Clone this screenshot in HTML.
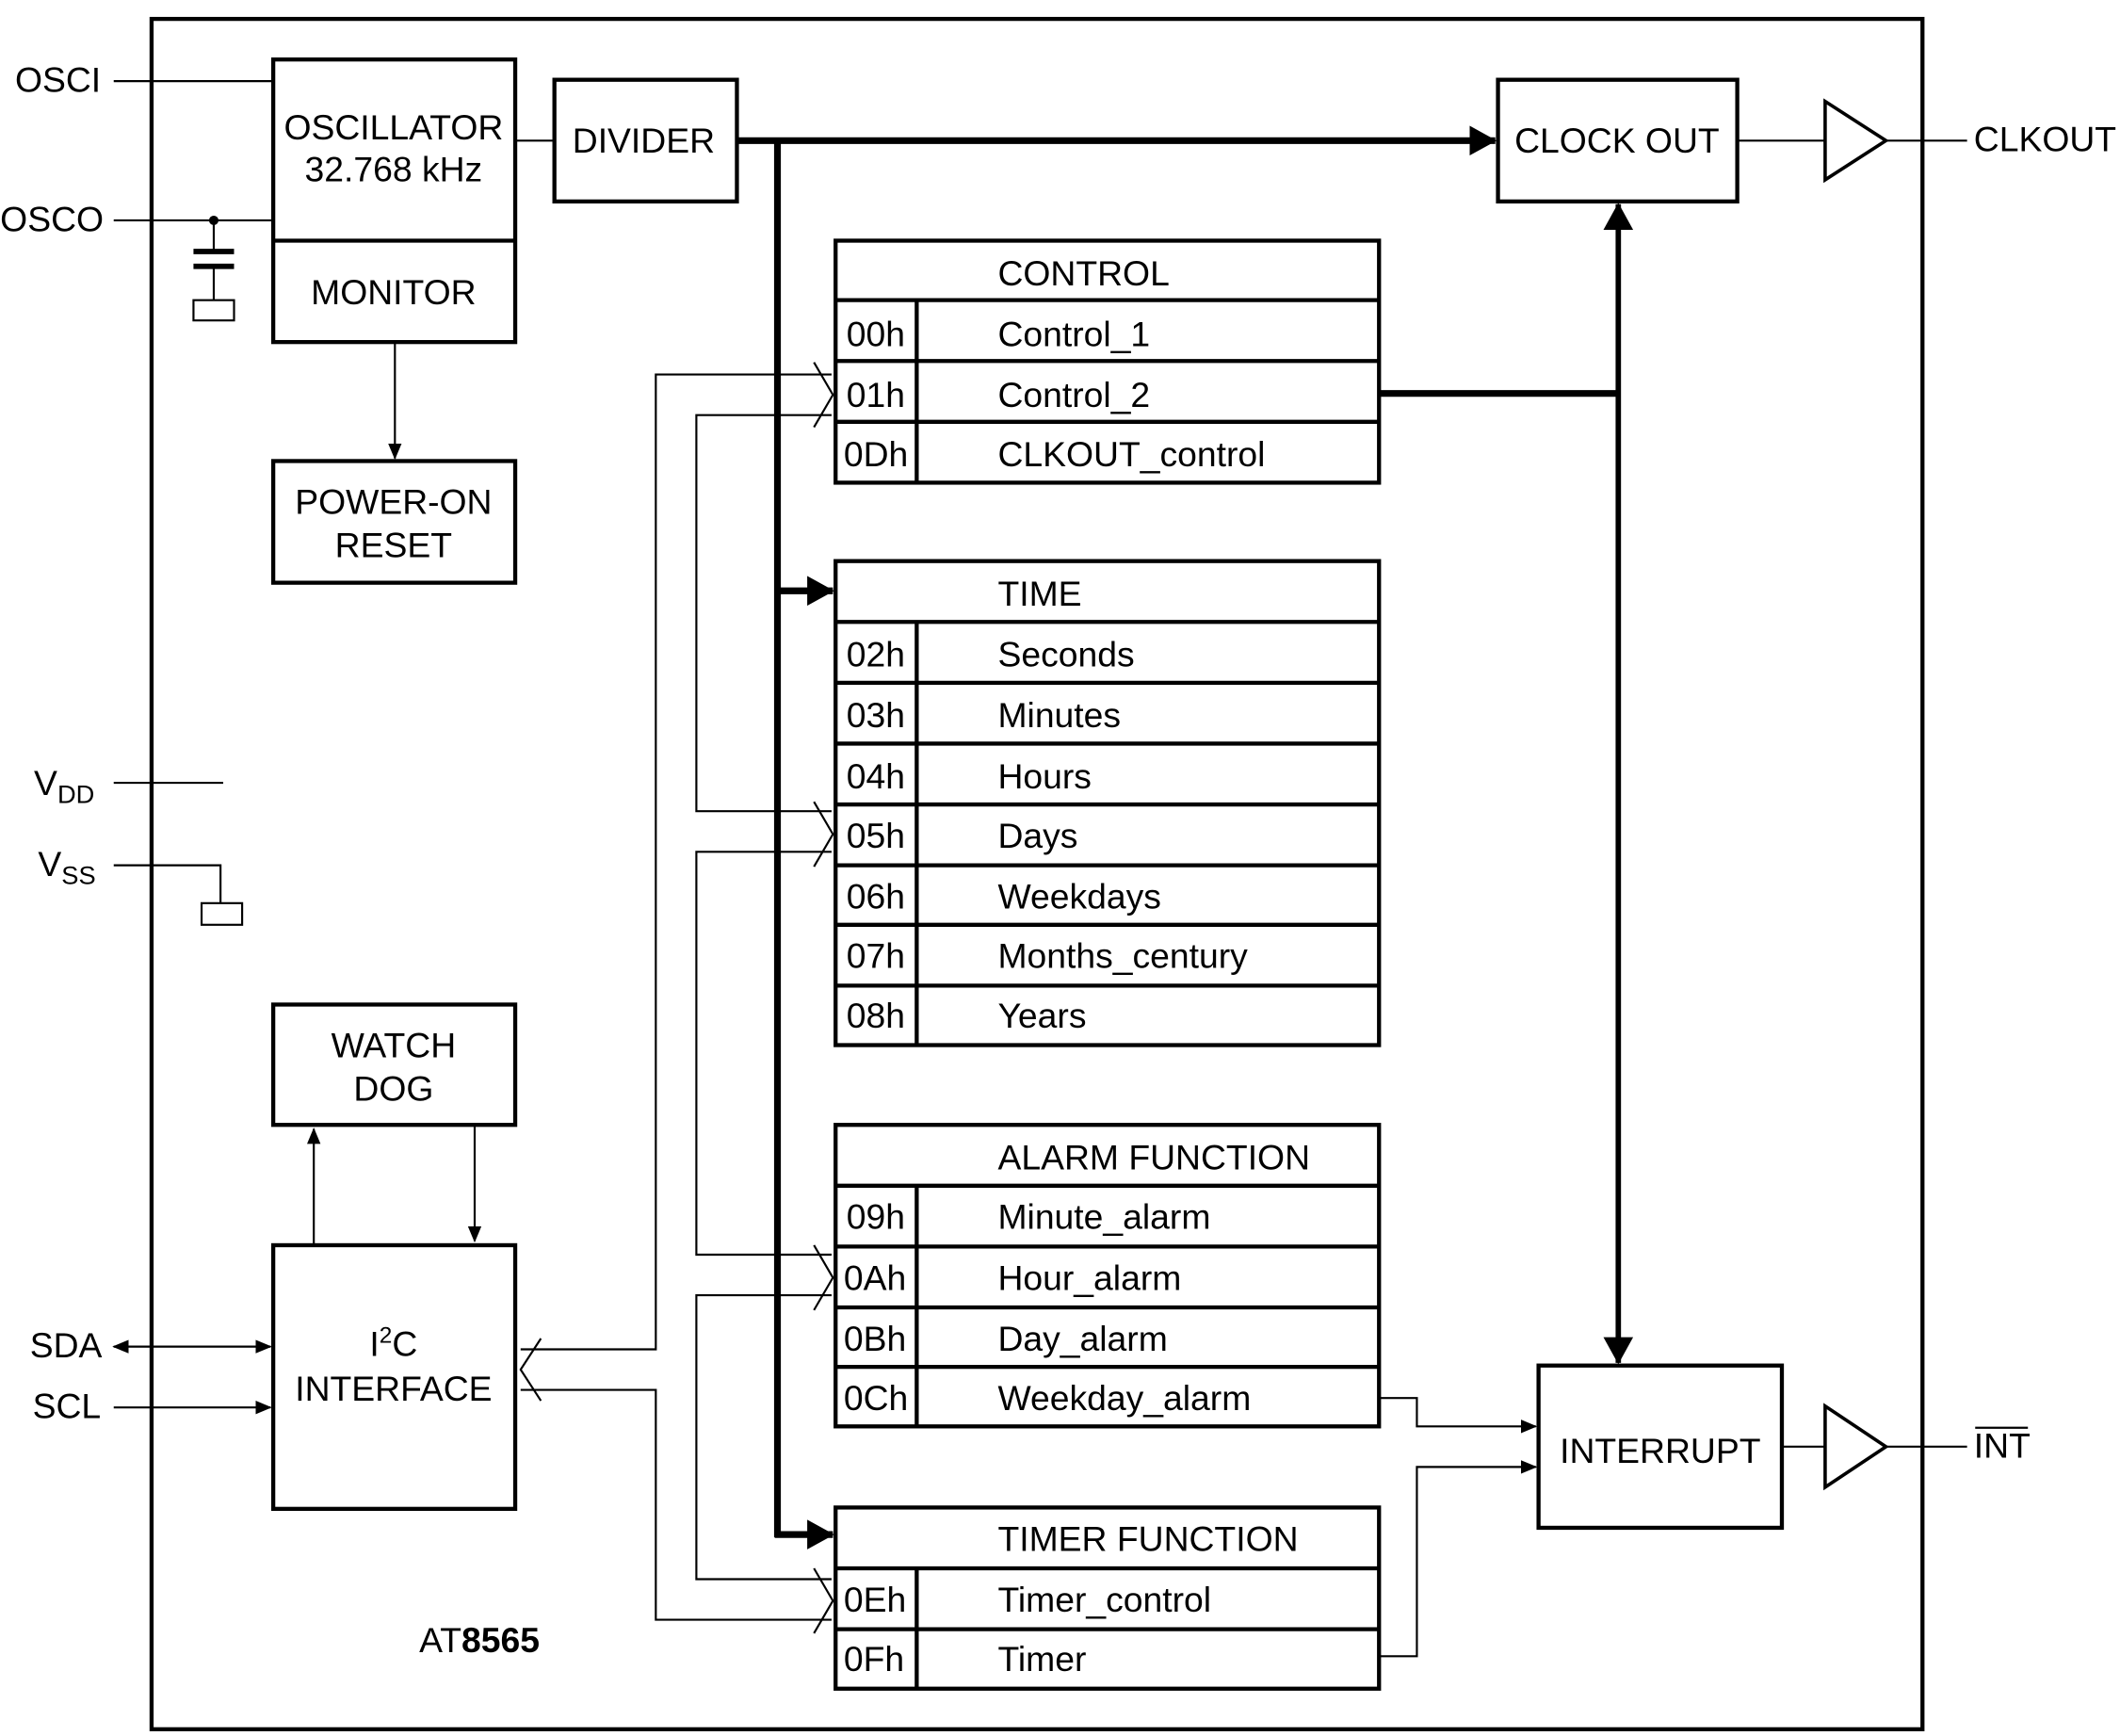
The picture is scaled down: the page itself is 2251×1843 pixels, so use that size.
<!DOCTYPE html>
<html><head><meta charset="utf-8"><style>
html,body{margin:0;padding:0;background:#fff;}
svg{display:block;}
text{font-family:"Liberation Sans",sans-serif;font-size:26px;fill:#000;}
</style></head><body>
<svg width="2251" height="1843" viewBox="0 0 1568 1284" xmlns="http://www.w3.org/2000/svg">
<defs>
<marker id="a" markerWidth="12" markerHeight="10" refX="11" refY="5" orient="auto-start-reverse" markerUnits="userSpaceOnUse"><path d="M0,0 L12,5 L0,10z" fill="#000"/></marker>
<marker id="as" markerWidth="20" markerHeight="22" refX="19" refY="11" orient="auto-start-reverse" markerUnits="userSpaceOnUse"><path d="M0,0 L20,11 L0,22z" fill="#000"/></marker>
</defs>
<g fill="none" stroke="#000" stroke-width="1.5">
<rect x="112" y="14" width="1310" height="1265" stroke-width="3"/>
<rect x="202" y="44" width="179" height="209" stroke-width="3"/>
<line x1="202" y1="178" x2="381" y2="178" stroke-width="3"/>
<rect x="410" y="59" width="135" height="90" stroke-width="3"/>
<rect x="1108" y="59" width="177" height="90" stroke-width="3"/>
<rect x="202" y="341" width="179" height="90" stroke-width="3"/>
<rect x="202" y="743" width="179" height="89" stroke-width="3"/>
<rect x="202" y="921" width="179" height="195" stroke-width="3"/>
<rect x="1138" y="1010" width="180" height="120" stroke-width="3"/>
<line x1="381" y1="104" x2="410" y2="104"/>
<line x1="84" y1="60" x2="202" y2="60"/>
<line x1="84" y1="163" x2="202" y2="163"/>
<line x1="158" y1="163" x2="158" y2="185"/>
<line x1="143" y1="186" x2="173" y2="186" stroke-width="4"/>
<line x1="143" y1="197" x2="173" y2="197" stroke-width="4"/>
<line x1="158" y1="197" x2="158" y2="222"/>
<rect x="143" y="222" width="30" height="15"/>
<line x1="84" y1="579" x2="165" y2="579"/>
<polyline points="84,640 163,640 163,668"/>
<rect x="149" y="668" width="30" height="16"/>
<line x1="292" y1="253" x2="292" y2="339" marker-end="url(#a)"/>
<line x1="232" y1="921" x2="232" y2="835" marker-end="url(#a)"/>
<line x1="351" y1="832" x2="351" y2="918" marker-end="url(#a)"/>
<line x1="84" y1="996" x2="200" y2="996" marker-start="url(#a)" marker-end="url(#a)"/>
<line x1="84" y1="1041" x2="200" y2="1041" marker-end="url(#a)"/>
<line x1="1285" y1="104" x2="1350" y2="104"/>
<path d="M1350,75 L1395,104 L1350,133z" stroke-width="2.5"/>
<line x1="1395" y1="104" x2="1455" y2="104"/>
<line x1="1318" y1="1070" x2="1350" y2="1070"/>
<path d="M1350,1040 L1395,1070 L1350,1100z" stroke-width="2.5"/>
<line x1="1395" y1="1070" x2="1455" y2="1070"/>
<line x1="1461" y1="1056" x2="1500" y2="1056"/>
<line x1="545" y1="104" x2="1106" y2="104" stroke-width="5" marker-end="url(#as)"/>
<line x1="575" y1="104" x2="575" y2="1137" stroke-width="5"/>
<line x1="575" y1="437" x2="616" y2="437" stroke-width="5" marker-end="url(#as)"/>
<line x1="573" y1="1135" x2="616" y2="1135" stroke-width="5" marker-end="url(#as)"/>
<line x1="1020" y1="291" x2="1197" y2="291" stroke-width="5"/>
<line x1="1197" y1="151" x2="1197" y2="1008" stroke-width="4" marker-start="url(#as)" marker-end="url(#as)"/>
<polyline points="1020,1034 1048,1034 1048,1055 1136,1055" marker-end="url(#a)"/>
<polyline points="1020,1225 1048,1225 1048,1085 1136,1085" marker-end="url(#a)"/>
<polyline points="385,998 485,998 485,277 615,277"/>
<polyline points="385,1028 485,1028 485,1198 615,1198"/>
<polyline points="615,307 515,307 515,600 615,600"/>
<polyline points="615,630 515,630 515,928 615,928"/>
<polyline points="615,958 515,958 515,1168 615,1168"/>
<polyline points="602,268 616,292 602,316"/>
<polyline points="602,593 616,617 602,641"/>
<polyline points="602,921 616,945 602,969"/>
<polyline points="602,1160 616,1184 602,1208"/>
<polyline points="400,990 385,1013 400,1036"/>
<g stroke-width="3">
<rect x="618" y="178" width="402" height="179"/>
<line x1="618" y1="222" x2="1020" y2="222"/><line x1="618" y1="267" x2="1020" y2="267"/><line x1="618" y1="312" x2="1020" y2="312"/>
<line x1="678" y1="222" x2="678" y2="357"/>
<rect x="618" y="415" width="402" height="358"/>
<line x1="618" y1="460" x2="1020" y2="460"/><line x1="618" y1="505" x2="1020" y2="505"/><line x1="618" y1="550" x2="1020" y2="550"/><line x1="618" y1="595" x2="1020" y2="595"/><line x1="618" y1="640" x2="1020" y2="640"/><line x1="618" y1="684" x2="1020" y2="684"/><line x1="618" y1="729" x2="1020" y2="729"/>
<line x1="678" y1="460" x2="678" y2="773"/>
<rect x="618" y="832" width="402" height="223"/>
<line x1="618" y1="877" x2="1020" y2="877"/><line x1="618" y1="922" x2="1020" y2="922"/><line x1="618" y1="967" x2="1020" y2="967"/><line x1="618" y1="1011" x2="1020" y2="1011"/>
<line x1="678" y1="877" x2="678" y2="1055"/>
<rect x="618" y="1115" width="402" height="134"/>
<line x1="618" y1="1160" x2="1020" y2="1160"/><line x1="618" y1="1205" x2="1020" y2="1205"/>
<line x1="678" y1="1160" x2="678" y2="1249"/>
</g>
</g>
<circle cx="158" cy="163" r="3.5"/>
<text x="11" y="68">OSCI</text>
<text x="0" y="171">OSCO</text>
<text x="25" y="588">V<tspan font-size="19" dy="6">DD</tspan></text>
<text x="28" y="648">V<tspan font-size="19" dy="6">SS</tspan></text>
<text x="22" y="1004">SDA</text>
<text x="24" y="1049">SCL</text>
<text x="1460" y="112">CLKOUT</text>
<text x="1460" y="1078">INT</text>
<g text-anchor="middle">
<text x="291" y="103">OSCILLATOR</text>
<text x="291" y="134">32.768 kHz</text>
<text x="291" y="225">MONITOR</text>
<text x="291" y="380">POWER-ON</text>
<text x="291" y="412">RESET</text>
<text x="476" y="113">DIVIDER</text>
<text x="1196" y="113">CLOCK OUT</text>
<text x="291" y="782">WATCH</text>
<text x="291" y="814">DOG</text>
<text x="291" y="1003">I<tspan font-size="17" dy="-10">2</tspan><tspan dy="10">C</tspan></text>
<text x="291" y="1036">INTERFACE</text>
<text x="1228" y="1082">INTERRUPT</text>
</g>
<text x="310" y="1222" font-size="31">AT<tspan font-weight="bold">8565</tspan></text>
<g>
<text x="738" y="211">CONTROL</text>
<text x="626" y="256">00h</text><text x="738" y="256">Control_1</text>
<text x="626" y="301">01h</text><text x="738" y="301">Control_2</text>
<text x="624" y="345">0Dh</text><text x="738" y="345">CLKOUT_control</text>
<text x="738" y="448">TIME</text>
<text x="626" y="493">02h</text><text x="738" y="493">Seconds</text>
<text x="626" y="538">03h</text><text x="738" y="538">Minutes</text>
<text x="626" y="583">04h</text><text x="738" y="583">Hours</text>
<text x="626" y="627">05h</text><text x="738" y="627">Days</text>
<text x="626" y="672">06h</text><text x="738" y="672">Weekdays</text>
<text x="626" y="716">07h</text><text x="738" y="716">Months_century</text>
<text x="626" y="760">08h</text><text x="738" y="760">Years</text>
<text x="738" y="865">ALARM FUNCTION</text>
<text x="626" y="909">09h</text><text x="738" y="909">Minute_alarm</text>
<text x="624" y="954">0Ah</text><text x="738" y="954">Hour_alarm</text>
<text x="624" y="999">0Bh</text><text x="738" y="999">Day_alarm</text>
<text x="624" y="1043">0Ch</text><text x="738" y="1043">Weekday_alarm</text>
<text x="738" y="1147">TIMER FUNCTION</text>
<text x="624" y="1192">0Eh</text><text x="738" y="1192">Timer_control</text>
<text x="624" y="1236">0Fh</text><text x="738" y="1236">Timer</text>
</g>
</svg>
</body></html>
